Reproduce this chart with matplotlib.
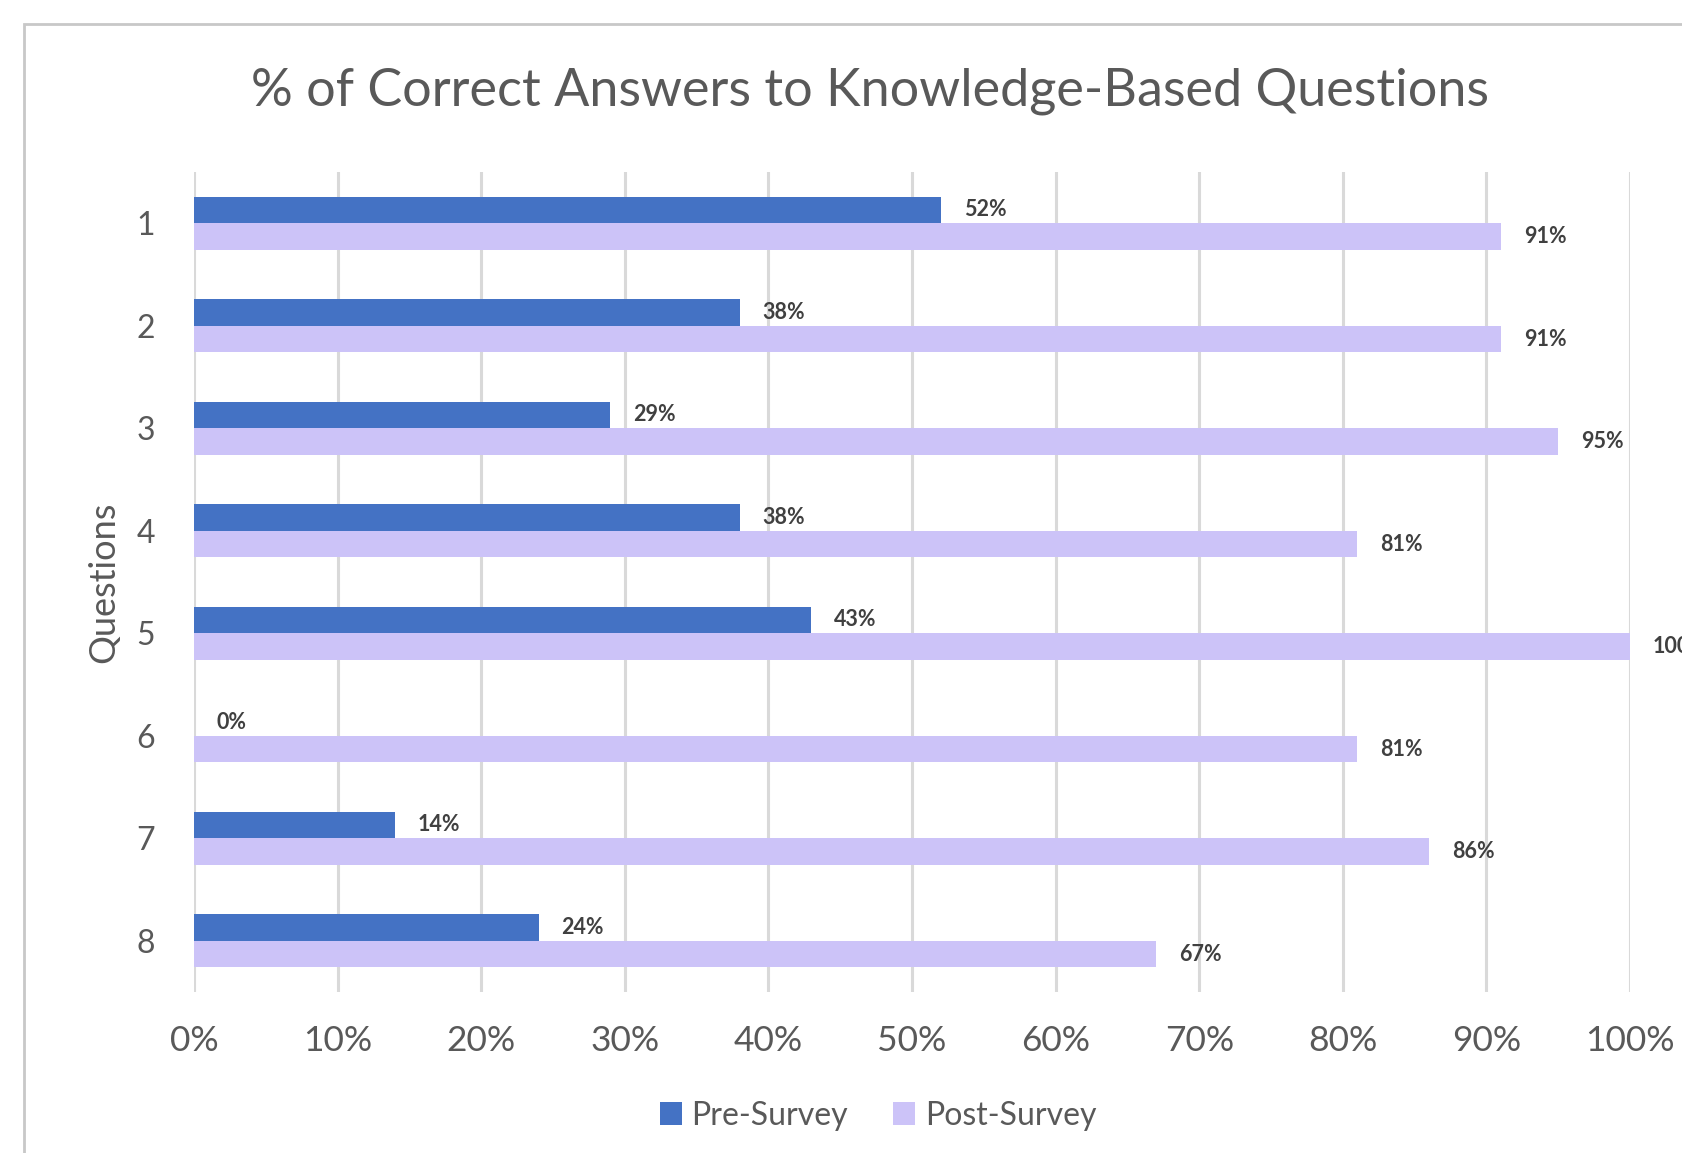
#!/usr/bin/env python3
"""Pre/post survey bar chart"""

import numpy as np
import matplotlib.pyplot as plt
from matplotlib.patches import Rectangle

# Data
questions = ["1", "2", "3", "4", "5", "6", "7", "8"]
pre_survey = [52, 38, 29, 38, 43, 0, 14, 24]
post_survey = [91, 91, 95, 81, 100, 81, 86, 67]
x_ticks = [0, 10, 20, 30, 40, 50, 60, 70, 80, 90, 100]

PRE_COLOR = "#4472C4"
POST_COLOR = "#CCC3F8"
TEXT_COLOR = "#595959"
LABEL_COLOR = "#404040"

plt.rcParams["font.family"] = ["Lato", "DejaVu Sans"]


def plot(fig: plt.Figure) -> None:
    """Draw the horizontal grouped bars."""
    ax = fig.add_axes([0.1153, 0.1396, 0.8538, 0.7112])
    y = np.arange(len(questions))
    h = 0.26

    ax.barh(y - h / 2, pre_survey, height=h, color=PRE_COLOR, label="Pre-Survey", zorder=3)
    ax.barh(y + h / 2, post_survey, height=h, color=POST_COLOR, label="Post-Survey", zorder=3)

    # Data labels
    for yi, v in zip(y, pre_survey):
        ax.text(v + 1.6, yi - h / 2, f"{v}%", va="center", ha="left",
                fontsize=15.5, fontweight="bold", color=LABEL_COLOR, clip_on=False)
    for yi, v in zip(y, post_survey):
        ax.text(v + 1.6, yi + h / 2, f"{v}%", va="center", ha="left",
                fontsize=15.5, fontweight="bold", color=LABEL_COLOR, clip_on=False)

    ax.set_xlim(0, 100)
    ax.set_ylim(len(questions) - 0.5, -0.5)
    ax.set_xticks(x_ticks)
    ax.set_xticklabels([f"{t}%" for t in x_ticks])
    ax.set_yticks(y)
    ax.set_yticklabels(questions)
    ax.tick_params(axis="both", length=0, labelcolor=TEXT_COLOR)
    ax.tick_params(axis="x", pad=24, labelsize=25.5)
    ax.tick_params(axis="y", pad=28, labelsize=23)

    ax.grid(axis="x", color="#D9D9D9", linewidth=2.2, zorder=0)
    for s in ax.spines.values():
        s.set_visible(False)

    ax.set_ylabel("Questions", fontsize=26, color=TEXT_COLOR, labelpad=12)

    fig.text(0.517, 0.921, "% of Correct Answers to Knowledge-Based Questions",
             ha="center", va="center", fontsize=37.5, color=TEXT_COLOR)

    handles, labels = ax.get_legend_handles_labels()
    fig.legend(handles, labels, loc="center", bbox_to_anchor=(0.522, 0.0325),
               ncol=2, frameon=False, fontsize=23, labelcolor=TEXT_COLOR,
               handlelength=0.7, handleheight=0.7, handletextpad=0.3,
               columnspacing=1.4)

    # Chart frame (cropped on the right and bottom)
    fig.patches.append(Rectangle((24 / 1682, -0.1), 1.2, 1 - 24 / 1153 + 0.1,
                                 transform=fig.transFigure, fill=False,
                                 edgecolor="#C8C8C8", linewidth=2))


def main() -> None:
    fig = plt.figure(figsize=(16.82, 11.53), dpi=100)
    plot(fig)
    fig.savefig("out.png", dpi=100, facecolor="white")


if __name__ == "__main__":
    main()
